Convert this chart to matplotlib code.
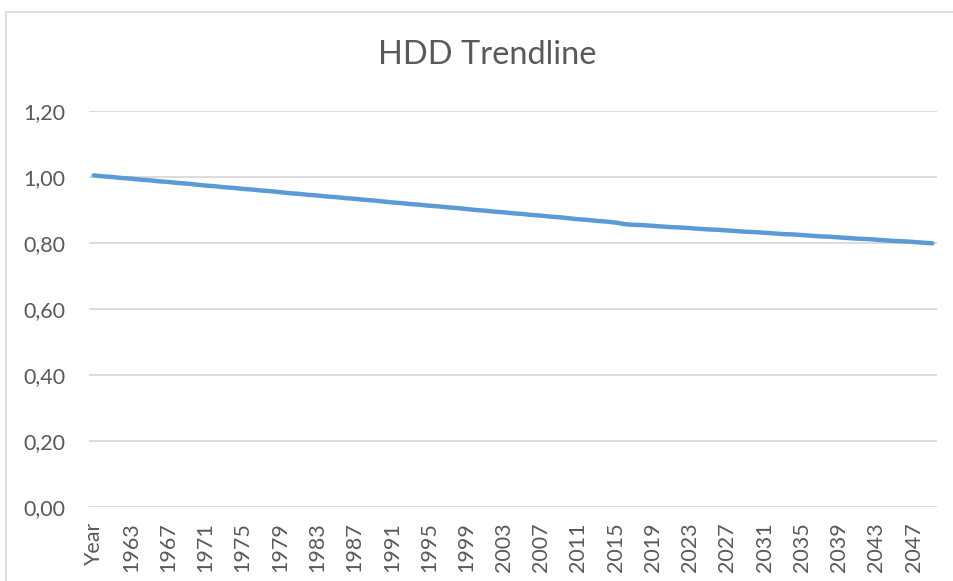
import matplotlib.pyplot as plt
from matplotlib.patches import Rectangle

# categories: header cell "Year" followed by the years 1960-2049
categories = ["Year"] + [str(y) for y in range(1960, 2050)]

hdd_trend = [
    1.005, 1.002, 1.000, 0.997, 0.995, 0.992, 0.990, 0.987, 0.985, 0.982,
    0.980, 0.977, 0.974, 0.972, 0.969, 0.967, 0.964, 0.962, 0.959, 0.957,
    0.954, 0.951, 0.949, 0.946, 0.944, 0.941, 0.939, 0.936, 0.934, 0.931,
    0.929, 0.926, 0.923, 0.921, 0.918, 0.916, 0.913, 0.911, 0.908, 0.906,
    0.903, 0.900, 0.898, 0.895, 0.893, 0.890, 0.888, 0.885, 0.883, 0.880,
    0.878, 0.875, 0.872, 0.870, 0.867, 0.865, 0.862, 0.857, 0.855, 0.854,
    0.852, 0.850, 0.848, 0.847, 0.845, 0.843, 0.841, 0.840, 0.838, 0.836,
    0.834, 0.833, 0.831, 0.829, 0.827, 0.826, 0.824, 0.822, 0.820, 0.819,
    0.817, 0.815, 0.813, 0.812, 0.810, 0.808, 0.806, 0.805, 0.803, 0.801,
    0.799,
]

y_ticks = [0.0, 0.2, 0.4, 0.6, 0.8, 1.0, 1.2]

plt.rcParams['font.family'] = ['Lato', 'DejaVu Sans']
grey = '#595959'

fig = plt.figure(figsize=(9.54, 5.81), dpi=100)
# chart area border (runs off the right and bottom of the image)
fig.patches.append(Rectangle((6 / 954, -0.1), 1.1, 1.1 - 12 / 581,
                             transform=fig.transFigure, fill=False,
                             edgecolor='#d9d9d9', lw=1.2))

ax = fig.add_axes((89 / 954, 74 / 581, 848 / 954, 396 / 581))
x = list(range(len(categories)))
ax.plot(x, hdd_trend, color='#5b9bd5', lw=3.2, solid_capstyle='round',
        zorder=3)

ax.set_xlim(-0.5, len(categories) - 0.5)
ax.set_ylim(0, 1.2)
ax.set_yticks(y_ticks)
ax.set_yticklabels([f'{v:.2f}'.replace('.', ',') for v in y_ticks])
ax.set_xticks(x[::4])
ax.set_xticklabels(categories[::4], rotation=90)
ax.grid(axis='y', color='#d9d9d9', lw=1.3)
ax.set_axisbelow(True)
for s in ax.spines.values():
    s.set_visible(False)
ax.tick_params(length=0, colors=grey, labelsize=15.5)
ax.tick_params(axis='y', pad=17)
ax.tick_params(axis='x', pad=11)

fig.text(487 / 954, 1 - 55 / 581, 'HDD Trendline', ha='center', va='center',
         fontsize=23.5, color=grey)

fig.savefig('out.png', dpi=100)
